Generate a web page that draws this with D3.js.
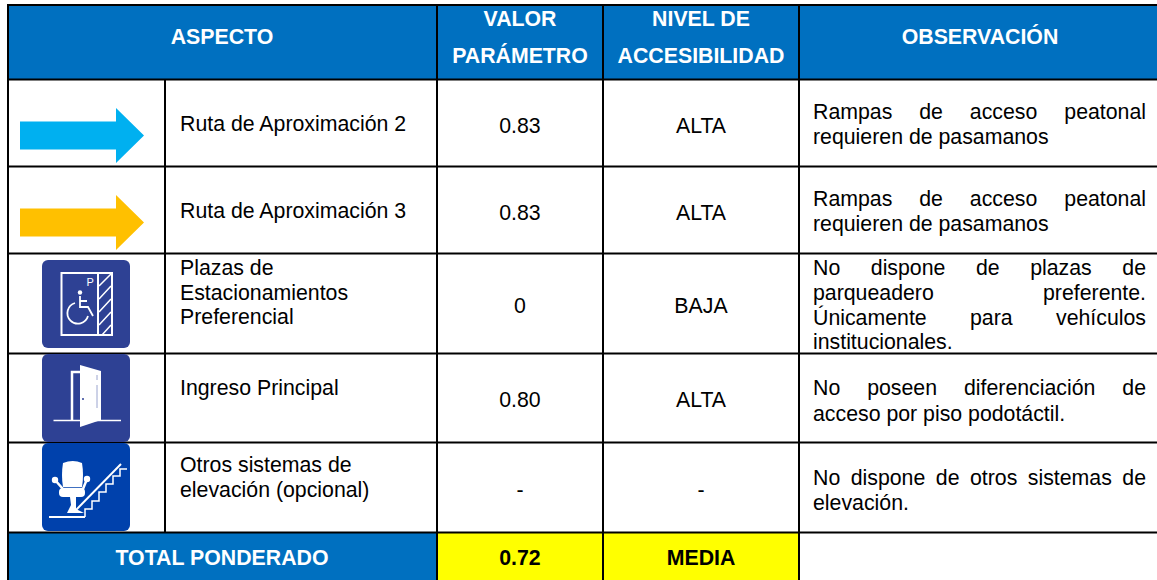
<!DOCTYPE html>
<html>
<head>
<meta charset="utf-8">
<script src="https://cdn.jsdelivr.net/npm/d3@7"></script>
<style>
    html, body { margin: 0; padding: 0; background: #fff; overflow: hidden; }
    text { font-family: "Liberation Sans", Arial, sans-serif; }
</style>
</head>
<body>
<div id="chart"></div>
<script>
// table contents
const headers = [
    { lines: ["ASPECTO"], col: 0 },
    { lines: ["VALOR", "PARÁMETRO"], col: 2 },
    { lines: ["NIVEL DE", "ACCESIBILIDAD"], col: 3 },
    { lines: ["OBSERVACIÓN"], col: 4 }
];
const aspects = [
    ["Ruta de Aproximación 2"],
    ["Ruta de Aproximación 3"],
    ["Plazas de", "Estacionamientos", "Preferencial"],
    ["Ingreso Principal"],
    ["Otros sistemas de", "elevación (opcional)"]
];
const values = ["0.83", "0.83", "0", "0.80", "-"];
const levels = ["ALTA", "ALTA", "BAJA", "ALTA", "-"];
const observations = [
    ["Rampas de acceso peatonal", "requieren de pasamanos"],
    ["Rampas de acceso peatonal", "requieren de pasamanos"],
    ["No dispone de plazas de", "parqueadero preferente.", "Únicamente para vehículos", "institucionales."],
    ["No poseen diferenciación de", "acceso por piso podotáctil."],
    ["No dispone de otros sistemas de", "elevación."]
];
const totalLabel = "TOTAL PONDERADO";
const totalValue = "0.72";
const totalLevel = "MEDIA";

// layout
const width = 1157, height = 580;
const colX = [8, 165, 437, 603, 799, 1159];
const rowY = [5, 79.5, 166.5, 253.5, 353.5, 442.5, 532.5, 582];
const aspectBase = [[131], [218], [275, 300, 324], [395], [472, 497]];
const valueBase = [133, 220, 313, 407, 497];
const obsBase = [[119, 144], [206, 231], [275, 300, 325, 349], [395, 421], [485, 510]];
const blue = "#0070C0", yellow = "#FFFF00";
const fontSize = 21.3, headSize = 21.3;

const svg = d3.select("#chart").append("svg")
    .attr("width", width)
    .attr("height", height)
    .attr("viewBox", [0, 0, width, height])
    .style("display", "block");

// fills
svg.append("rect").attr("x", colX[0]).attr("y", rowY[0]).attr("width", width - colX[0]).attr("height", rowY[1] - rowY[0]).attr("fill", blue);
svg.append("rect").attr("x", colX[0]).attr("y", rowY[6]).attr("width", colX[2] - colX[0]).attr("height", rowY[7] - rowY[6]).attr("fill", blue);
svg.append("rect").attr("x", colX[2]).attr("y", rowY[6]).attr("width", colX[4] - colX[2]).attr("height", rowY[7] - rowY[6]).attr("fill", yellow);

// grid lines
const grid = svg.append("g").attr("stroke", "#000").attr("stroke-width", 2);
grid.selectAll("line.h").data(rowY.slice(0, 7)).join("line")
    .attr("x1", colX[0] - 1).attr("x2", width)
    .attr("y1", d => d).attr("y2", d => d);
const vLines = [
    { x: colX[0], y1: rowY[0], y2: height },
    { x: colX[1], y1: rowY[1], y2: rowY[6] },
    { x: colX[2], y1: rowY[0], y2: height },
    { x: colX[3], y1: rowY[0], y2: height },
    { x: colX[4], y1: rowY[0], y2: height }
];
grid.selectAll("line.v").data(vLines).join("line")
    .attr("x1", d => d.x).attr("x2", d => d.x)
    .attr("y1", d => d.y1).attr("y2", d => d.y2);

// header
const headY = { 1: [44], 2: [26, 63] };
headers.forEach(h => {
    const cx = h.col === 0 ? 222 : h.col === 4 ? 980 : (colX[h.col] + colX[h.col + 1]) / 2;
    svg.append("g").selectAll("text").data(h.lines).join("text")
        .attr("x", cx)
        .attr("y", (d, i) => headY[h.lines.length][i])
        .attr("text-anchor", "middle")
        .attr("font-size", headSize)
        .attr("font-weight", "bold")
        .attr("fill", "#fff")
        .text(d => d);
});

// body rows
const body = svg.append("g").attr("font-size", fontSize).attr("fill", "#000");
aspects.forEach((lines, r) => {
    body.append("g").selectAll("text").data(lines).join("text")
        .attr("x", 180)
        .attr("y", (d, i) => aspectBase[r][i])
        .text(d => d);
});
body.append("g").selectAll("text").data(values).join("text")
    .attr("x", 520).attr("y", (d, i) => valueBase[i])
    .attr("text-anchor", "middle").text(d => d);
body.append("g").selectAll("text").data(levels).join("text")
    .attr("x", 701).attr("y", (d, i) => valueBase[i])
    .attr("text-anchor", "middle").text(d => d);

// observations are justified, so stretch the word gaps except on last lines
const obsLeft = 813, obsRight = 1146;
observations.forEach((lines, r) => {
    body.append("g").selectAll("text").data(lines).join("text")
        .attr("x", obsLeft)
        .attr("y", (d, i) => obsBase[r][i])
        .text(d => d)
        .each(function (d, i) {
            if (i === lines.length - 1) return;
            const gaps = d.split(" ").length - 1;
            const extra = (obsRight - obsLeft - this.getComputedTextLength()) / gaps;
            d3.select(this).attr("word-spacing", extra);
        });
});

// total row
svg.append("text").attr("x", 222).attr("y", 565).attr("text-anchor", "middle")
    .attr("font-size", 21.3).attr("font-weight", "bold").attr("fill", "#fff").text(totalLabel);
svg.append("text").attr("x", 520).attr("y", 565).attr("text-anchor", "middle")
    .attr("font-size", 21.3).attr("font-weight", "bold").text(totalValue);
svg.append("text").attr("x", 701).attr("y", 565).attr("text-anchor", "middle")
    .attr("font-size", 21.3).attr("font-weight", "bold").text(totalLevel);

// arrows
const arrowPath = "M0,13.5H96V0L124,27.5L96,55V41.5H0Z";
svg.append("path").attr("d", arrowPath).attr("transform", "translate(20,108)").attr("fill", "#00B0F0");
svg.append("path").attr("d", arrowPath).attr("transform", "translate(20,195)").attr("fill", "#FFC000");

// icon backgrounds
const iconTile = (y, color) => svg.append("g").attr("transform", `translate(42,${y})`)
    .call(g => g.append("rect").attr("width", 88).attr("height", 88).attr("rx", 6).attr("fill", color));

// parking icon
const parking = iconTile(260, "#2E4194");
parking.append("rect").attr("x", 19.5).attr("y", 13).attr("width", 50.5).attr("height", 62)
    .attr("fill", "none").attr("stroke", "#fff").attr("stroke-width", 2);
parking.append("line").attr("x1", 56).attr("x2", 56).attr("y1", 13).attr("y2", 75).attr("stroke", "#fff").attr("stroke-width", 2);
parking.append("path").attr("d", "M57,26L69,14M57,39L69,26M57,52L69,39M57,65L69,52M60,75L69,65")
    .attr("stroke", "#fff").attr("stroke-width", 1.5).attr("fill", "none");
parking.append("text").attr("x", 44.5).attr("y", 26).attr("font-size", 11).attr("fill", "#fff").text("P");
parking.append("circle").attr("cx", 38).attr("cy", 32.5).attr("r", 2.2).attr("fill", "#fff");
parking.append("path").attr("d", "M38,36V47H46L51,56M38,41H45M33,43A10.5,10.5 0 1 0 46,56")
    .attr("stroke", "#fff").attr("stroke-width", 1.8).attr("fill", "none");

// door icon
const door = iconTile(354, "#2E4194");
door.append("line").attr("x1", 11.5).attr("x2", 79).attr("y1", 66.5).attr("y2", 66.5).attr("stroke", "#fff").attr("stroke-width", 1.5);
door.append("path").attr("d", "M30,67V18H38").attr("stroke", "#fff").attr("stroke-width", 2.5).attr("fill", "none");
door.append("path").attr("d", "M38,11L59,17V66L38,73Z").attr("fill", "#fff");
door.append("circle").attr("cx", 41).attr("cy", 45).attr("r", 1).attr("fill", "#2E4194");
door.append("path").attr("d", "M55,21V26M55,31V54").attr("stroke", "#9AA4CF").attr("stroke-width", 1).attr("fill", "none");

// stair lift icon
const lift = iconTile(443, "#0041AC");
lift.append("path").attr("d", "M21,20Q31,16 40,20Q42,32 40,44H21Q19,32 21,20Z").attr("fill", "#fff");
lift.append("path").attr("d", "M13,37L21,46H41L45,36").attr("stroke", "#fff").attr("stroke-width", 2.5).attr("fill", "none");
lift.append("circle").attr("cx", 13).attr("cy", 37).attr("r", 3.2).attr("fill", "#fff");
lift.append("circle").attr("cx", 45).attr("cy", 36).attr("r", 3.2).attr("fill", "#fff");
lift.append("rect").attr("x", 17).attr("y", 45).attr("width", 26).attr("height", 9).attr("rx", 4).attr("fill", "#fff");
lift.append("path").attr("d", "M28,54H34V66L42,70H25L29,62Z").attr("fill", "#fff");
lift.append("path").attr("d", "M7,74H43").attr("stroke", "#fff").attr("stroke-width", 2).attr("fill", "none");
lift.append("path").attr("d", "M34,67L79,21").attr("stroke", "#fff").attr("stroke-width", 2).attr("fill", "none");
lift.append("path").attr("d", "M43,74V66H50V58H57V49H64V41H71V33H78V26H85")
    .attr("stroke", "#fff").attr("stroke-width", 1.5).attr("fill", "none");
</script>
</body>
</html>
